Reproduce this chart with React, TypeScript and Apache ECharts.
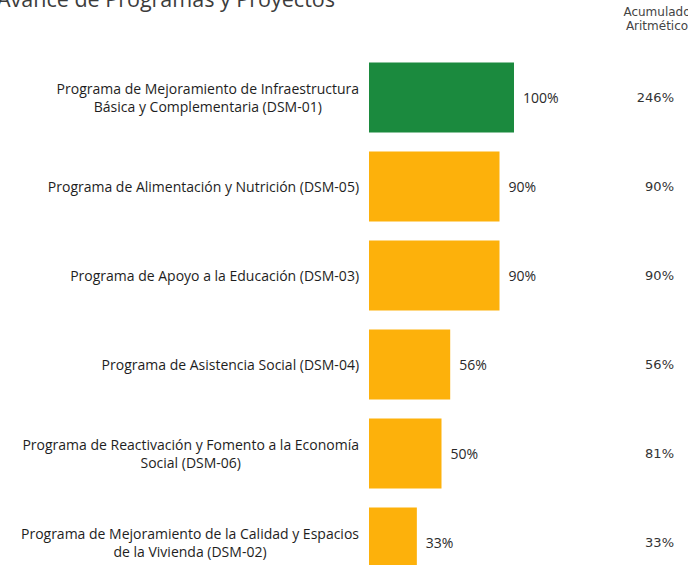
import React, { useEffect, useRef } from "react";
import * as echarts from "echarts";

const categories: string[] = [
  "Programa de Mejoramiento de Infraestructura\nBásica y Complementaria (DSM-01)",
  "Programa de Alimentación y Nutrición (DSM-05)",
  "Programa de Apoyo a la Educación (DSM-03)",
  "Programa de Asistencia Social (DSM-04)",
  "Programa de Reactivación y Fomento a la Economía\nSocial (DSM-06)",
  "Programa de Mejoramiento de la Calidad y Espacios\nde la Vivienda (DSM-02)",
];
const avance: number[] = [100, 90, 90, 56, 50, 33];
const acumulado: number[] = [246, 90, 90, 56, 81, 33];
const barColors: string[] = ["#1B8A3E", "#FDB10B", "#FDB10B", "#FDB10B", "#FDB10B", "#FDB10B"];

const TITLE = "Avance de Programas y Proyectos";
const HEADER = "Acumulado\nAritmético";

export default function App() {
  const ref = useRef<HTMLDivElement>(null);
  useEffect(() => {
    if (!ref.current) return;
    const chart = echarts.init(ref.current, undefined, { renderer: "svg" });
    chart.setOption({
      animation: false,
      backgroundColor: "#ffffff",
      title: {
        text: TITLE,
        left: -3,
        top: -13,
        padding: 0,
        textStyle: { fontFamily: "Open Sans", fontSize: 21.5, fontWeight: "normal", color: "#3c3c3c" },
      },
      graphic: [
        {
          type: "text",
          x: 657,
          y: 5,
          style: {
            text: HEADER,
            fontFamily: "DejaVu Sans",
            fontSize: 12,
            lineHeight: 14,
            fill: "#444444",
            align: "center",
          },
        },
      ],
      grid: { left: 369, top: 53, width: 232, height: 534 },
      xAxis: {
        type: "value",
        min: 0,
        max: 160,
        show: false,
        splitLine: { show: false },
      },
      yAxis: [
        {
          type: "category",
          data: categories,
          inverse: true,
          axisLine: { show: false },
          axisTick: { show: false },
          axisLabel: {
            margin: 10,
            align: "right",
            fontFamily: "Open Sans",
            fontSize: 14,
            color: "#1e1e1e",
            lineHeight: 18,
            formatter: (v: string) =>
              v
                .split("\n")
                .map((l) => `{c|${l}}`)
                .join("\n"),
            rich: {
              c: { align: "center", fontFamily: "Open Sans", fontSize: 14, color: "#1e1e1e", lineHeight: 18 },
            },
          },
        },
        {
          type: "category",
          data: categories,
          inverse: true,
          position: "right",
          axisLine: { show: false },
          axisTick: { show: false },
          axisLabel: {
            margin: 73,
            align: "right",
            fontFamily: "DejaVu Sans",
            fontSize: 13,
            color: "#333333",
            formatter: (_v: string, i: number) => `${acumulado[i]}%`,
          },
        },
      ],
      series: [
        {
          type: "bar",
          yAxisIndex: 0,
          barWidth: 70,
          data: avance.map((v, i) => ({ value: v, itemStyle: { color: barColors[i] } })),
          label: {
            show: true,
            position: "right",
            distance: 9,
            fontFamily: "Open Sans",
            fontSize: 14,
            color: "#2a2a2a",
            formatter: (p: any) => `${p.value}%`,
          },
        },
      ],
    });
    return () => chart.dispose();
  }, []);
  return (
    <div
      style={{
        position: "fixed",
        left: 0,
        top: 0,
        width: 688,
        height: 565,
        overflow: "hidden",
        background: "#ffffff",
      }}
    >
      <div ref={ref} style={{ width: 688, height: 600 }} />
    </div>
  );
}
